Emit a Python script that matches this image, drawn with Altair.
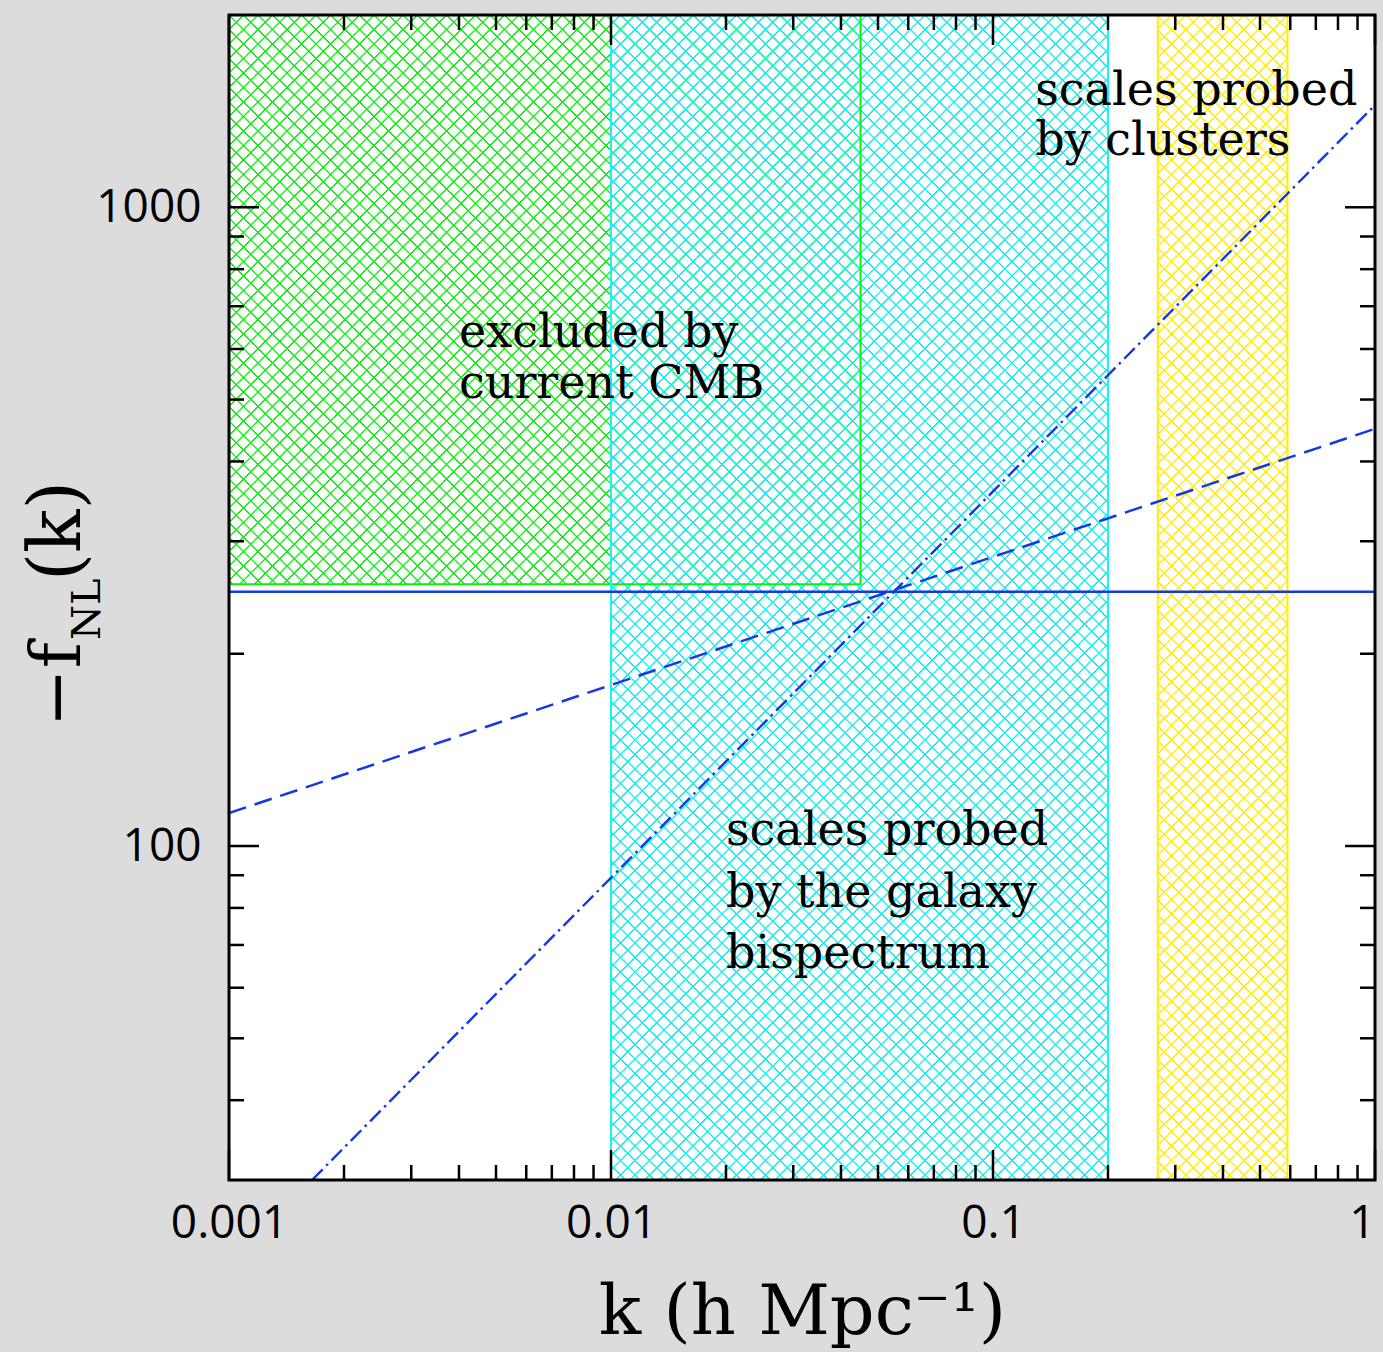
import math
import altair as alt
import pandas as pd

# ---------------- data ----------------
region_names = ["cmb", "bispectrum", "clusters"]
region_k_lo = [0.001, 0.01, 0.27]
region_k_hi = [0.045, 0.2, 0.59]
region_f_lo = [257.0, 30.0, 30.0]
region_f_hi = [2000.0, 2000.0, 2000.0]

line_k = [0.001, 1.0]
const_f = [250.0, 250.0]
dashed_f = [112.6, 450.0]
dashdot_k = [0.00165, 1.0]
dashdot_f = [30.0, 1445.0]

note_text = ["excluded by", "current CMB", "scales probed", "by clusters",
             "scales probed", "by the galaxy", "bispectrum"]
note_k = [0.0040, 0.0040, 0.129, 0.129, 0.0200, 0.0200, 0.0200]
note_f = [604.0, 503.0, 1446.0, 1207.0, 100.4, 80.2, 64.4]

x_major_ticks = [0.001, 0.01, 0.1, 1.0]
x_minor_ticks = [0.002, 0.003, 0.004, 0.005, 0.006, 0.007, 0.008, 0.009,
                 0.02, 0.03, 0.04, 0.05, 0.06, 0.07, 0.08, 0.09,
                 0.2, 0.3, 0.4, 0.5, 0.6, 0.7, 0.8, 0.9]
y_major_ticks = [100.0, 1000.0]
y_minor_ticks = [40.0, 50.0, 60.0, 70.0, 80.0, 90.0,
                 200.0, 300.0, 400.0, 500.0, 600.0, 700.0, 800.0, 900.0]

# ---------------- style ----------------
W, H = 1146, 1165
K_DOMAIN = [0.001, 1.0]
F_DOMAIN = [30.0, 2000.0]
hatch_rgb = {"cmb": (20, 238, 20), "bispectrum": (24, 238, 238), "clusters": (255, 238, 0)}
edge_color = {"cmb": "#10ee10", "bispectrum": "#20f0f0", "clusters": "#ffee00"}
BLUE = "#1537e6"
HATCH_D = 14.5

XS = alt.Scale(type="log", domain=K_DOMAIN, nice=False)
YS = alt.Scale(type="log", domain=F_DOMAIN, nice=False)
XAX = alt.Axis(values=x_major_ticks, format="~g", grid=False, domain=False, ticks=False,
               labelFont="Open Sans", labelFontSize=46, labelColor="black",
               labelPadding=21, labelFlush=False, labelOverlap=False,
               labelAlign=alt.condition("datum.value >= 1", alt.value("right"), alt.value("center")),
               title="k (h Mpc\u207b\u00b9)", titleFont="DejaVu Serif", titleFontSize=70,
               titleFontWeight="normal", titleColor="black", titleX=W / 2, titleY=153,
               titleBaseline="alphabetic", titleAlign="center")
YAX = alt.Axis(values=y_major_ticks, format="~g", grid=False, domain=False, ticks=False,
               labelFont="Open Sans", labelFontSize=46, labelColor="black",
               labelPadding=28, labelFlush=False, labelOverlap=False, title=None)


def X(field="k"):
    return alt.X(f"{field}:Q", scale=XS, axis=XAX)


def Y(field="f"):
    return alt.Y(f"{field}:Q", scale=YS, axis=YAX)


def px(k):
    lo, hi = math.log10(K_DOMAIN[0]), math.log10(K_DOMAIN[1])
    return (math.log10(k) - lo) / (hi - lo) * W


def py(f):
    lo, hi = math.log10(F_DOMAIN[0]), math.log10(F_DOMAIN[1])
    return (hi - math.log10(f)) / (hi - lo) * H


def hatch_gradient(x0, y0, x1, y1, rgb, family, core=0.35, edge=1.0):
    w, h = x1 - x0, y1 - y0
    S = w + h
    t = S / (w * w + h * h)
    if family == "A":
        cmin = x0 - y1
        coords = dict(x1=0, y1=1, x2=t * w, y2=1 - t * h)
    else:
        cmin = x0 + y0
        coords = dict(x1=0, y1=0, x2=t * w, y2=t * h)
    cmax = cmin + S
    r, g, b = rgb
    col = f"rgb({r},{g},{b})"
    clear = f"rgba({r},{g},{b},0)"
    r2 = math.sqrt(2)
    stops = [{"offset": 0, "color": clear}]
    m0 = math.floor((cmin - 2 * edge * r2) / HATCH_D)
    m1 = math.ceil((cmax + 2 * edge * r2) / HATCH_D)
    for m in range(m0, m1 + 1):
        c = m * HATCH_D
        for off, cc in ((c - edge * r2, clear), (c - core * r2, col),
                        (c + core * r2, col), (c + edge * r2, clear)):
            o = (off - cmin) / S
            o = min(max(o, 0.0), 1.0)
            stops.append({"offset": round(o, 6), "color": cc})
    stops.append({"offset": 1, "color": clear})
    grad = {"gradient": "linear", "stops": stops}
    grad.update({k: round(v, 6) for k, v in coords.items()})
    return grad


regions = pd.DataFrame({"name": region_names, "k": region_k_lo, "k2": region_k_hi,
                        "f": region_f_lo, "f2": region_f_hi})

layers = []
for i, name in enumerate(region_names):
    row = regions.iloc[[i]]
    x0, x1 = px(region_k_lo[i]), px(region_k_hi[i])
    y0, y1 = py(region_f_hi[i]), py(region_f_lo[i])
    for fam in ("A", "B"):
        layers.append(
            alt.Chart(row).mark_rect(fill=hatch_gradient(x0, y0, x1, y1, hatch_rgb[name], fam))
            .encode(x=X("k"), x2="k2", y=Y("f"), y2="f2")
        )
for i, name in enumerate(region_names):
    row = regions.iloc[[i]]
    layers.append(
        alt.Chart(row).mark_rect(filled=False, stroke=edge_color[name], strokeWidth=2)
        .encode(x=X("k"), x2="k2", y=Y("f"), y2="f2")
    )

const_df = pd.DataFrame({"k": line_k, "f": const_f})
dashed_df = pd.DataFrame({"k": line_k, "f": dashed_f})
dashdot_df = pd.DataFrame({"k": dashdot_k, "f": dashdot_f})
layers.append(alt.Chart(const_df).mark_line(color=BLUE, strokeWidth=2.5, clip=True)
              .encode(x=X(), y=Y()))
layers.append(alt.Chart(dashed_df).mark_line(color=BLUE, strokeWidth=2.5, strokeDash=[18, 9], clip=True)
              .encode(x=X(), y=Y()))
layers.append(alt.Chart(dashdot_df).mark_line(color=BLUE, strokeWidth=2.4, strokeDash=[15, 5, 2.5, 5], clip=True)
              .encode(x=X(), y=Y()))

notes = pd.DataFrame({"text": note_text, "k": note_k, "f": note_f})
layers.append(alt.Chart(notes).mark_text(align="left", baseline="alphabetic", font="DejaVu Serif",
                                         fontSize=46, color="black")
              .encode(x=X(), y=Y(), text="text:N"))

# ticks (inward, on all four sides)
xmaj = pd.DataFrame({"k": x_major_ticks})
xmin = pd.DataFrame({"k": x_minor_ticks})
ymaj = pd.DataFrame({"f": y_major_ticks})
ymin = pd.DataFrame({"f": y_minor_ticks})
for df, ln in ((xmaj, 30), (xmin, 15)):
    layers.append(alt.Chart(df).mark_rule(color="black", strokeWidth=2.5)
                  .encode(x=X(), y=alt.value(H), y2=alt.value(H - ln)))
    layers.append(alt.Chart(df).mark_rule(color="black", strokeWidth=2.5)
                  .encode(x=X(), y=alt.value(0), y2=alt.value(ln)))
for df, ln in ((ymaj, 30), (ymin, 15)):
    layers.append(alt.Chart(df).mark_rule(color="black", strokeWidth=2.5)
                  .encode(y=Y(), x=alt.value(0), x2=alt.value(ln)))
    layers.append(alt.Chart(df).mark_rule(color="black", strokeWidth=2.5)
                  .encode(y=Y(), x=alt.value(W), x2=alt.value(W - ln)))

# frame
layers.append(alt.Chart(pd.DataFrame({"o": [0]})).mark_rect(filled=False, stroke="black", strokeWidth=3)
              .encode(x=alt.value(0), x2=alt.value(W), y=alt.value(0), y2=alt.value(H)))

# y-axis title  -f_NL(k)  (rotated, with subscript)
for txt, size, xv, yv in (("\u2212f", 70, -149, 712), ("NL", 40, -129, 625), ("(k)", 72, -149, 566)):
    layers.append(alt.Chart(pd.DataFrame({"t": [txt]}))
                  .mark_text(angle=270, align="left", baseline="alphabetic", font="DejaVu Serif",
                             fontSize=size, color="black")
                  .encode(x=alt.value(xv), y=alt.value(yv), text="t:N"))

chart = alt.layer(*layers).properties(
    width=W, height=H, background="#dcdcdc",
    padding={"left": 229, "top": 15, "right": 8, "bottom": 172},
    autosize=alt.AutoSizeParams(type="none"),
).configure_view(fill="white", strokeOpacity=0)

chart.save("out.html", embed_options={"renderer": "svg", "actions": False})
